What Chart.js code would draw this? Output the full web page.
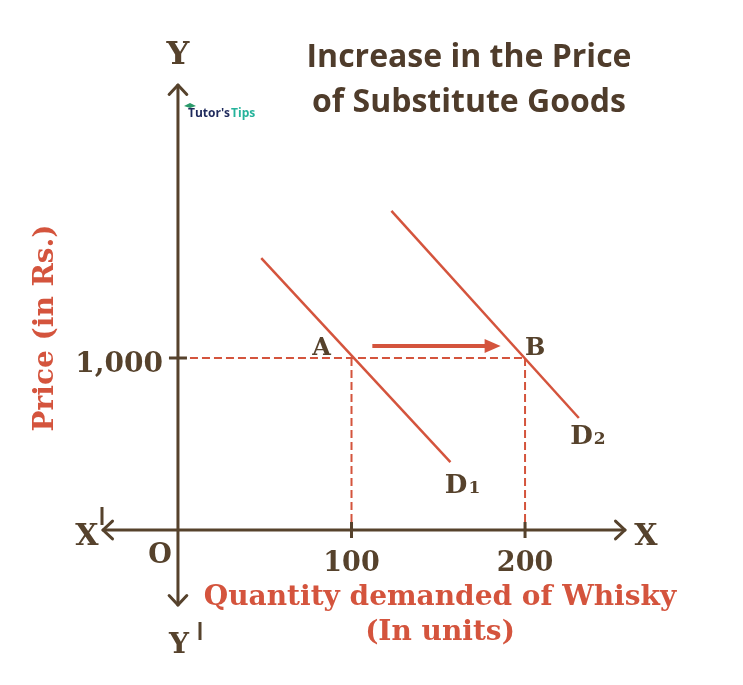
<!DOCTYPE html>
<html>
<head>
<meta charset="utf-8">
<script src="https://cdn.jsdelivr.net/npm/chart.js@4.4.0/dist/chart.umd.min.js"></script>
<style>
  html, body { margin: 0; padding: 0; background: #fff; }
  canvas { display: block; }
</style>
</head>
<body>
<canvas id="chart" width="743" height="685"></canvas>
<script>
// dados do diagrama (quantidade em unidades, preço em Rs.)
const quantityTicks = [100, 200];
const priceTicks = [1000];
const priceTickLabels = ['1,000'];
const d1Qty = [48, 157];
const d1Price = [1580, 395];
const d2Qty = [123, 231];
const d2Price = [1855, 651];
const pointA = { x: 100, y: 1000 };
const pointB = { x: 200, y: 1000 };
const shiftQty = [112, 179];
const shiftPrice = 1070;
const xRange = [-43.2, 257.6];
const yRange = [-436, 2587];

const BROWN = '#56422c';
const RED = '#d4543d';
const SERIF = '"DejaVu Serif", serif';

function pts(xs, ys) {
  return xs.map((x, i) => ({ x: x, y: ys[i] }));
}

const dashed = {
  borderColor: RED, borderWidth: 2, borderDash: [8, 4], pointRadius: 0, showLine: true
};

const datasets = [
  { data: pts(d1Qty, d1Price), borderColor: RED, borderWidth: 2.5, pointRadius: 0, showLine: true },
  { data: pts(d2Qty, d2Price), borderColor: RED, borderWidth: 2.5, pointRadius: 0, showLine: true },
  Object.assign({ data: [{ x: 0, y: pointB.y }, pointB] }, dashed),
  Object.assign({ data: [pointA, { x: pointA.x, y: 0 }] }, dashed),
  Object.assign({ data: [pointB, { x: pointB.x, y: 0 }] }, dashed),
  { data: pts(shiftQty, [shiftPrice, shiftPrice]), borderColor: RED, borderWidth: 4, pointRadius: 0, showLine: true }
];

function chevron(ctx, x, y, dx, dy, size) {
  // ponta de seta aberta
  const ang = Math.atan2(dy, dx);
  ctx.beginPath();
  ctx.moveTo(x - size * Math.cos(ang - 0.75), y - size * Math.sin(ang - 0.75));
  ctx.lineTo(x, y);
  ctx.lineTo(x - size * Math.cos(ang + 0.75), y - size * Math.sin(ang + 0.75));
  ctx.stroke();
}

function text(ctx, str, x, y, font, color, align) {
  ctx.font = font;
  ctx.fillStyle = color;
  ctx.textAlign = align || 'center';
  ctx.textBaseline = 'alphabetic';
  ctx.fillText(str, x, y);
}

const diagramPlugin = {
  id: 'diagram',
  beforeDatasetsDraw(chart) {
    const ctx = chart.ctx;
    const xs = chart.scales.x, ys = chart.scales.y;
    const ox = xs.getPixelForValue(0), oy = ys.getPixelForValue(0);
    const left = xs.getPixelForValue(xRange[0]), right = xs.getPixelForValue(xRange[1]);
    const top = ys.getPixelForValue(yRange[1]), bottom = ys.getPixelForValue(yRange[0]);
    ctx.save();
    ctx.strokeStyle = BROWN;
    ctx.lineWidth = 3;
    ctx.lineCap = 'round';
    ctx.lineJoin = 'round';
    ctx.beginPath();
    ctx.moveTo(left, oy); ctx.lineTo(right, oy);
    ctx.moveTo(ox, top); ctx.lineTo(ox, bottom);
    ctx.stroke();
    chevron(ctx, right, oy, 1, 0, 13);
    chevron(ctx, left, oy, -1, 0, 13);
    chevron(ctx, ox, top, 0, -1, 13);
    chevron(ctx, ox, bottom, 0, 1, 13);
    ctx.restore();
  },
  afterDatasetsDraw(chart) {
    const ctx = chart.ctx;
    const xs = chart.scales.x, ys = chart.scales.y;
    const px = v => xs.getPixelForValue(v);
    const py = v => ys.getPixelForValue(v);
    const ox = px(0), oy = py(0);
    ctx.save();

    // marcas dos eixos
    ctx.strokeStyle = BROWN;
    ctx.lineWidth = 3;
    ctx.beginPath();
    quantityTicks.forEach(q => { ctx.moveTo(px(q), oy - 8); ctx.lineTo(px(q), oy + 8); });
    priceTicks.forEach(p => { ctx.moveTo(ox - 9, py(p)); ctx.lineTo(ox + 9, py(p)); });
    ctx.stroke();

    // ponta da seta de deslocamento
    const hx = px(shiftQty[1]), hy = py(shiftPrice);
    ctx.fillStyle = RED;
    ctx.beginPath();
    ctx.moveTo(hx + 12, hy);
    ctx.lineTo(hx - 4, hy - 7);
    ctx.lineTo(hx - 4, hy + 7);
    ctx.closePath();
    ctx.fill();

    const bold = s => 'bold ' + s + 'px ' + SERIF;
    quantityTicks.forEach(q => text(ctx, String(q), px(q), oy + 41, bold(27), BROWN));
    priceTicks.forEach((p, i) => text(ctx, priceTickLabels[i], ox - 15, py(p) + 14, bold(28), BROWN, 'right'));

    text(ctx, 'Y', ox, 64, bold(32), BROWN);
    text(ctx, 'Y', ox + 1, 653, bold(28), BROWN);
    text(ctx, 'X', 87, 545, bold(30), BROWN);
    text(ctx, 'X', 646, 545, bold(30), BROWN);
    text(ctx, 'O', 160, 563, bold(27), BROWN);
    // apóstrofos verticais de X' e Y'
    ctx.strokeStyle = BROWN;
    ctx.lineWidth = 3;
    ctx.beginPath();
    ctx.moveTo(102, 507); ctx.lineTo(102, 525);
    ctx.moveTo(200, 622); ctx.lineTo(200, 640);
    ctx.stroke();

    text(ctx, 'A', px(pointA.x) - 30, py(pointA.y) - 3, bold(24), BROWN);
    text(ctx, 'B', px(pointB.x) + 10, py(pointB.y) - 3, bold(24), BROWN);

    const d1x = px(d1Qty[1]) + 17, d1y = py(d1Price[1]) + 31;
    text(ctx, 'D', d1x, d1y, bold(26), BROWN, 'right');
    text(ctx, '1', d1x + 1, d1y, bold(17), BROWN, 'left');
    const d2x = px(d2Qty[1]) + 14, d2y = py(d2Price[1]) + 26;
    text(ctx, 'D', d2x, d2y, bold(26), BROWN, 'right');
    text(ctx, '2', d2x + 1, d2y, bold(17), BROWN, 'left');

    // títulos dos eixos
    text(ctx, 'Quantity demanded of Whisky', 440, 605, bold(28), RED);
    text(ctx, '(In units)', 440, 640, bold(28), RED);
    ctx.save();
    ctx.translate(53, 328);
    ctx.rotate(-Math.PI / 2);
    text(ctx, 'Price (in Rs.)', 0, 0, bold(28), RED);
    ctx.restore();

    // título
    text(ctx, 'Increase in the Price', 469, 67, 'bold 32px "Open Sans", sans-serif', '#4f3c2b');
    text(ctx, 'of Substitute Goods', 469, 112, 'bold 32px "Open Sans", sans-serif', '#4f3c2b');

    // logo
    text(ctx, "Tutor's", 188, 117, 'bold 12px "Open Sans", sans-serif', '#1f2a5c', 'left');
    ctx.font = 'bold 12px "Open Sans", sans-serif';
    const tw = ctx.measureText("Tutor's").width;
    text(ctx, 'Tips', 188 + tw + 1, 117, 'bold 12px "Open Sans", sans-serif', '#25b39b', 'left');
    ctx.fillStyle = '#2a9a6a';
    ctx.beginPath();
    ctx.moveTo(184, 106); ctx.lineTo(190, 103); ctx.lineTo(196, 106); ctx.lineTo(190, 108);
    ctx.closePath();
    ctx.fill();

    ctx.restore();
  }
};

new Chart(document.getElementById('chart'), {
  type: 'scatter',
  data: { datasets: datasets },
  options: {
    responsive: false,
    animation: false,
    layout: { padding: { left: 103, right: 118, top: 85, bottom: 80 } },
    plugins: { legend: { display: false }, tooltip: { enabled: false } },
    scales: {
      x: { type: 'linear', min: xRange[0], max: xRange[1], display: false },
      y: { type: 'linear', min: yRange[0], max: yRange[1], display: false }
    }
  },
  plugins: [diagramPlugin]
});
</script>
</body>
</html>
